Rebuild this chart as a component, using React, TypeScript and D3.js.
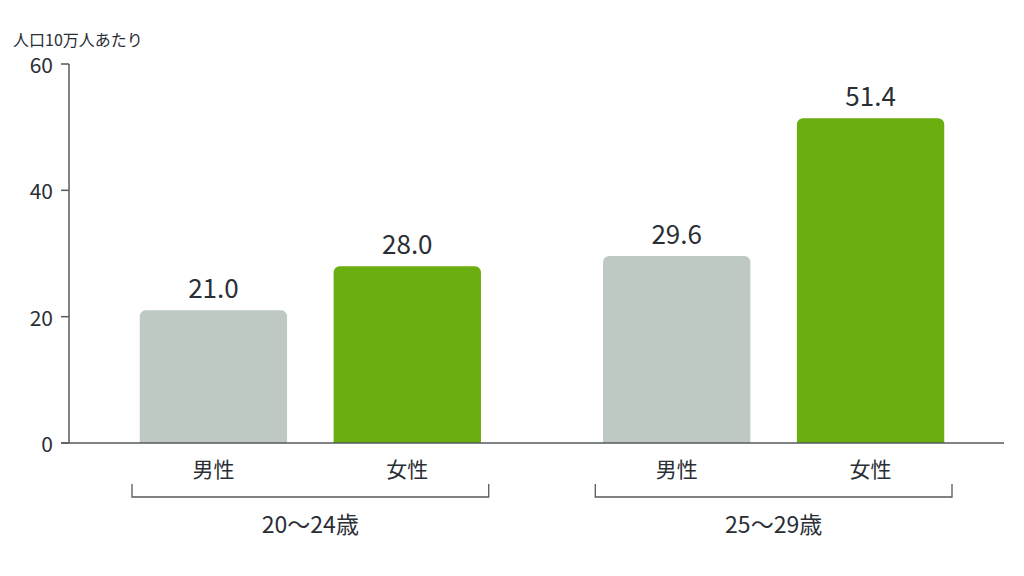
import React from "react";
import * as d3 from "d3";

const groups = ["20〜24歳", "25〜29歳"];
const sexes = ["男性", "女性"];
const values: number[][] = [
  [21.0, 28.0],
  [29.6, 51.4],
];
const yTicks = [0, 20, 40, 60];
const yTitle = "人口10万人あたり";
const colors = ["#bec9c3", "#6aae10"];

const W = 1024;
const H = 576;
const FONT = "'Noto Sans CJK JP', 'Noto Sans', sans-serif";
const TEXT = "#2a2e35";
const AXIS = "#555a5e";

function topRoundedRect(x: number, y: number, w: number, h: number, r: number) {
  const p = d3.path();
  p.moveTo(x, y + h);
  p.lineTo(x, y + r);
  p.arcTo(x, y, x + r, y, r);
  p.lineTo(x + w - r, y);
  p.arcTo(x + w, y, x + w, y + r, r);
  p.lineTo(x + w, y + h);
  p.closePath();
  return p.toString();
}

export default function App() {
  const axisX = 69;
  const axisRight = 1004;
  const y = d3.scaleLinear().domain([0, 60]).range([443, 64]);
  const xg = d3.scaleBand<string>().domain(groups).range([132, 952]).paddingInner(0.23).paddingOuter(0);
  const xs = d3
    .scaleBand<string>()
    .domain(sexes)
    .range([0, xg.bandwidth()])
    .paddingInner(0.24)
    .paddingOuter(0.04);

  return (
    <svg width={W} height={H} style={{ position: "absolute", left: 0, top: 0, background: "#fff" }} fontFamily={FONT}>
      <rect x={0} y={0} width={W} height={H} fill="#fff" />
      <text x={13} y={39} fontSize={16} fill={TEXT} dominantBaseline="central">
        {yTitle}
      </text>
      {/* y axis */}
      <line x1={axisX} x2={axisX} y1={y(60)} y2={y(0)} stroke={AXIS} strokeWidth={1.5} />
      {yTicks.map((t) => (
        <g key={t}>
          <line x1={axisX - 8} x2={axisX} y1={y(t)} y2={y(t)} stroke={AXIS} strokeWidth={1.5} />
          <text x={axisX - 16} y={y(t)} fontSize={21} fill={TEXT} textAnchor="end" dominantBaseline="central">
            {t}
          </text>
        </g>
      ))}
      {/* bars */}
      {groups.map((g, gi) => (
        <g key={g} transform={`translate(${xg(g)},0)`}>
          {sexes.map((s, si) => {
            const v = values[gi][si];
            const bx = xs(s)!;
            const bw = xs.bandwidth();
            return (
              <g key={s}>
                <path d={topRoundedRect(bx, y(v), bw, y(0) - y(v), 6)} fill={colors[si]} />
                <text x={bx + bw / 2} y={y(v) - 12} fontSize={26} fill={TEXT} textAnchor="middle">
                  {v.toFixed(1)}
                </text>
                <text
                  x={bx + bw / 2}
                  y={468}
                  fontSize={21}
                  fill={TEXT}
                  textAnchor="middle"
                  dominantBaseline="central"
                >
                  {s}
                </text>
              </g>
            );
          })}
          <path
            d={`M0,484V497H${xg.bandwidth()}V484`}
            fill="none"
            stroke={AXIS}
            strokeWidth={1.3}
          />
          <text
            x={xg.bandwidth() / 2}
            y={523}
            fontSize={23}
            fill={TEXT}
            textAnchor="middle"
            dominantBaseline="central"
          >
            {g}
          </text>
        </g>
      ))}
      {/* baseline */}
      <line x1={axisX - 8} x2={axisRight} y1={y(0)} y2={y(0)} stroke={AXIS} strokeWidth={1.5} />
    </svg>
  );
}
